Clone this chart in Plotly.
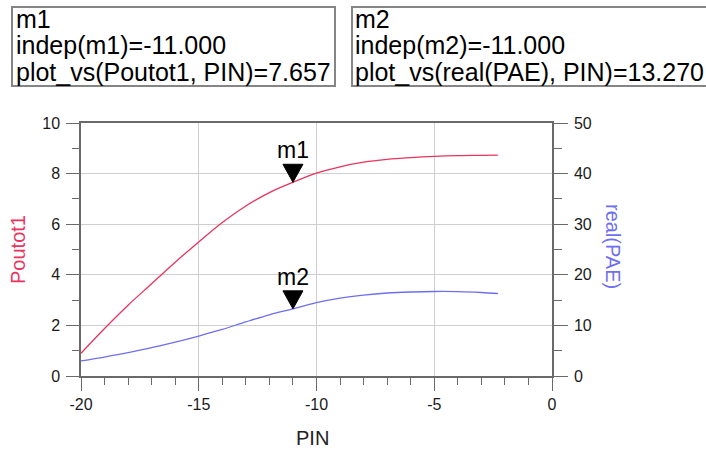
import plotly.graph_objects as go

# ---- data ----
pin = [-20, -19, -18, -17, -16, -15, -14, -13, -12, -11, -10, -9, -8, -7, -6, -5, -4, -3, -2.3]
poutot1 = [0.9, 1.88, 2.8, 3.65, 4.5, 5.3, 6.07, 6.72, 7.25, 7.657, 8.02, 8.27, 8.45, 8.56, 8.63, 8.68, 8.71, 8.72, 8.73]
pae = [3.0, 3.75, 4.6, 5.6, 6.7, 7.9, 9.2, 10.7, 12.1, 13.27, 14.5, 15.4, 16.0, 16.4, 16.6, 16.7, 16.68, 16.5, 16.3]

x_tickvals = [-20, -15, -10, -5, 0]
x_ticktext = ["-20", "-15", "-10", "-5", "0"]
y1_tickvals = [0, 2, 4, 6, 8, 10]
y1_ticktext = ["0", "2", "4", "6", "8", "10"]
y2_tickvals = [0, 10, 20, 30, 40, 50]
y2_ticktext = ["0", "10", "20", "30", "40", "50"]

m1_x, m1_y = -11, 7.657
m2_x, m2_y = -11, 13.270

RED = "#e8345e"
BLUE = "#6e6ef0"
FONT = "Arial, Liberation Sans, sans-serif"
AX = "#6a6a6a"
GRID = "#cfcfcf"

W, H = 706, 450
L, R, T, B = 81, 154, 123, 74
PW, PH = W - L - R, H - T - B


def px(xp):
    return (xp - L) / PW


def py(yp):
    return (H - B - yp) / PH


fig = go.Figure()
fig.add_trace(go.Scatter(x=pin, y=poutot1, mode="lines", line=dict(color=RED, width=1.3, shape="spline"),
                         name="Poutot1", yaxis="y"))
fig.add_trace(go.Scatter(x=pin, y=pae, mode="lines", line=dict(color=BLUE, width=1.3, shape="spline"),
                         name="real(PAE)", yaxis="y2"))

shapes = []
annotations = []
# marker triangles (apex at data point)
for (mx, my, yref, lbl) in [(m1_x, m1_y, "y", "m1"), (m2_x, m2_y, "y2", "m2")]:
    shapes.append(dict(type="path", xref="x", yref=yref, xsizemode="pixel", ysizemode="pixel",
                       xanchor=mx, yanchor=my, path="M 0 0 L -10 18 L 10 18 Z",
                       fillcolor="black", line=dict(color="black", width=1)))
    annotations.append(dict(x=mx, y=my, xref="x", yref=yref, text=lbl, showarrow=False,
                            xanchor="center", yanchor="bottom", yshift=17,
                            font=dict(family=FONT, size=23, color="black")))

# readout boxes
shapes.append(dict(type="rect", xref="paper", yref="paper", x0=px(12), x1=px(335), y0=py(86), y1=py(7),
                   line=dict(color="#858585", width=2), fillcolor="rgba(0,0,0,0)"))
shapes.append(dict(type="rect", xref="paper", yref="paper", x0=px(352), x1=px(712), y0=py(86), y1=py(7),
                   line=dict(color="#858585", width=2), fillcolor="rgba(0,0,0,0)"))

box1 = ["m1", "indep(m1)=-11.000", "plot_vs(Poutot1, PIN)=%.3f" % m1_y]
box2 = ["m2", "indep(m2)=-11.000", "plot_vs(real(PAE), PIN)=%.3f" % m2_y]
centers = [18.6, 45.3, 72.0]
for lines, x0 in [(box1, 14), (box2, 353)]:
    for t, c in zip(lines, centers):
        annotations.append(dict(x=px(x0), y=py(c), xref="paper", yref="paper", text=t, showarrow=False,
                                xanchor="left", yanchor="middle", align="left",
                                font=dict(family=FONT, size=25, color="black")))

# axis titles
annotations.append(dict(x=px(613), y=py(246), xref="paper", yref="paper", text="real(PAE)", showarrow=False,
                        xanchor="center", yanchor="middle", textangle=90,
                        font=dict(family=FONT, size=20, color=BLUE)))
annotations.append(dict(x=px(18), y=py(250), xref="paper", yref="paper", text="Poutot1", showarrow=False,
                        xanchor="center", yanchor="middle", textangle=-90,
                        font=dict(family=FONT, size=20, color=RED)))
annotations.append(dict(x=px(312), y=py(438), xref="paper", yref="paper", text="PIN", showarrow=False,
                        xanchor="center", yanchor="middle",
                        font=dict(family=FONT, size=20, color="#222")))

tickfont = dict(family=FONT, size=16, color="#1a1a1a")

fig.update_layout(
    width=W, height=H,
    margin=dict(l=L, r=R, t=T, b=B, autoexpand=False),
    paper_bgcolor="white", plot_bgcolor="white",
    showlegend=False,
    font=dict(family=FONT),
    shapes=shapes,
    annotations=annotations,
    xaxis=dict(range=[-20, 0], tickvals=x_tickvals, ticktext=x_ticktext, showgrid=True, gridcolor=GRID,
               gridwidth=1, automargin=False,
               showline=True, linecolor=AX, linewidth=1.5, mirror=True,
               ticks="outside", ticklen=13, tickcolor=AX, tickwidth=1.3,
               minor=dict(dtick=1, tick0=0, ticks="outside", ticklen=7, tickcolor=AX, showgrid=False),
               tickfont=tickfont, zeroline=False),
    yaxis=dict(range=[0, 10], tickvals=y1_tickvals, ticktext=y1_ticktext, showgrid=True, gridcolor=GRID,
               gridwidth=1, automargin=False,
               showline=True, linecolor=AX, linewidth=1.5,
               ticks="outside", ticklen=13, tickcolor=AX, tickwidth=1.3, ticklabelstandoff=3,
               minor=dict(dtick=1, tick0=0, ticks="outside", ticklen=7, tickcolor=AX, showgrid=False),
               tickfont=tickfont, zeroline=False),
    yaxis2=dict(range=[0, 50], tickvals=y2_tickvals, ticktext=y2_ticktext, overlaying="y", side="right",
                showgrid=False, automargin=False,
                showline=True, linecolor=AX, linewidth=1.5,
                ticks="outside", ticklen=14, tickcolor=AX, tickwidth=1.3, ticklabelstandoff=3,
                minor=dict(dtick=5, tick0=0, ticks="outside", ticklen=8, tickcolor=AX, showgrid=False),
                tickfont=tickfont, zeroline=False),
)

fig.write_html("out.html",
               config={"displayModeBar": False},
               post_script="document.body.style.margin='0';document.body.style.padding='0';"
                           "document.documentElement.style.overflow='hidden';")
